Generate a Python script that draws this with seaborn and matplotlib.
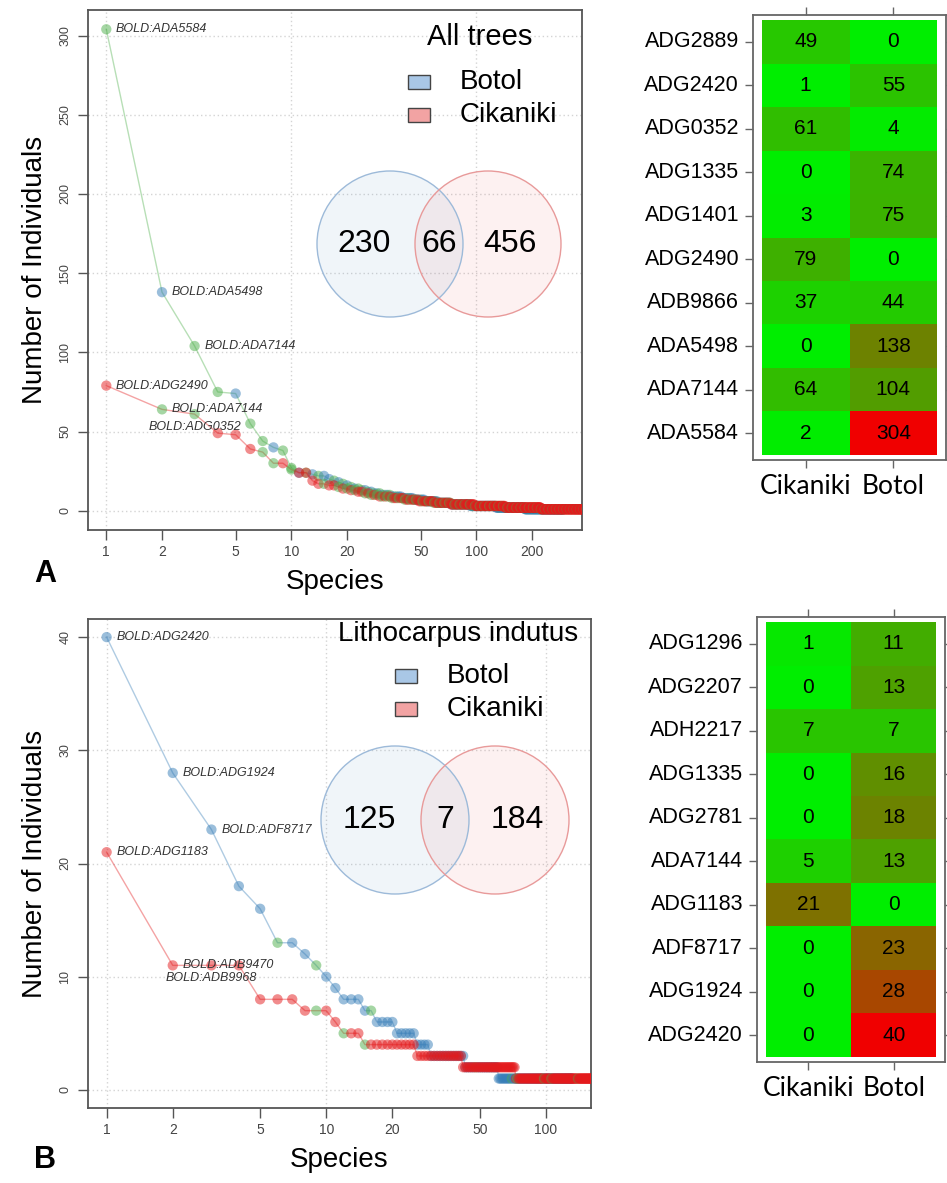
import numpy as np
import pandas as pd
import seaborn as sns
import matplotlib.pyplot as plt
from matplotlib.colors import LinearSegmentedColormap
from matplotlib.patches import Circle, Rectangle
from matplotlib.ticker import NullLocator

W, H = 947, 1183

# ---- panel A (all trees): rank abundance, first ranks one by one, then runs of equal abundance ----
a_botol_head = [304, 138, 104, 75, 74, 55, 44, 40, 38, 27, 24, 24, 23, 22, 22, 20, 19, 18, 17, 16,
                15, 14, 14, 13, 13, 12, 12, 11, 11, 11]
a_botol_tail_vals = [10, 9, 8, 7, 6, 5, 4, 3, 2, 1]
a_botol_tail_runs = [4, 5, 6, 7, 9, 11, 20, 35, 55, 114]
a_botol_shared = [1, 3, 4, 6, 7, 9, 10, 12, 14, 17, 19, 21, 23, 24, 26, 28, 30, 32, 34, 37, 40, 43,
                  46, 50, 53, 57, 60, 64, 68, 72, 77, 81, 86, 90, 95, 100, 105, 110, 116, 121, 127,
                  133, 139, 145, 151, 158, 165, 172, 179, 186, 193, 200, 208, 216, 224, 232, 240,
                  248, 256, 263, 270, 276, 282, 287, 291, 294]
a_cik_head = [79, 64, 61, 49, 48, 39, 37, 30, 30, 26, 24, 24, 19, 17, 17, 16, 16, 15, 14, 14,
              13, 13, 12, 12, 11, 11, 10, 10, 10, 9]
a_cik_tail_vals = [9, 8, 7, 6, 5, 4, 3, 2, 1]
a_cik_tail_runs = [4, 6, 8, 10, 14, 25, 45, 80, 300]
a_cik_shared = [2, 3, 7, 8, 10, 15, 18, 20, 22, 25, 27, 29, 31, 33, 35, 38, 41, 44, 47, 51, 55, 59,
                63, 67, 71, 76, 81, 86, 92, 98, 104, 110, 117, 124, 131, 139, 147, 155, 164, 173,
                182, 192, 202, 212, 223, 234, 245, 257, 269, 281, 294, 307, 320, 334, 348, 363,
                378, 393, 409, 425, 441, 457, 473, 489, 505, 518]
a_botol_labels = ["BOLD:ADA5584", "BOLD:ADA5498", "BOLD:ADA7144"]
a_cik_labels = ["BOLD:ADG2490", "BOLD:ADA7144", "BOLD:ADG0352"]
a_venn = [230, 66, 456]

# ---- panel B (Lithocarpus indutus) ----
b_botol_head = [40, 28, 23, 18, 16, 13, 13, 12, 11, 10, 9, 8, 8, 8]
b_botol_tail_vals = [7, 6, 5, 4, 3, 2, 1]
b_botol_tail_runs = [2, 4, 5, 4, 13, 18, 72]
b_botol_shared = [6, 9, 16, 48, 70, 95, 118]
b_cik_head = [21, 11, 11, 11, 8, 8, 8, 7, 7, 7, 6, 5, 5, 5]
b_cik_tail_vals = [4, 3, 2, 1]
b_cik_tail_runs = [11, 16, 31, 119]
b_cik_shared = [9, 12, 15, 74, 98, 106, 140]
b_botol_labels = ["BOLD:ADG2420", "BOLD:ADG1924", "BOLD:ADF8717"]
b_cik_labels = ["BOLD:ADG1183", "BOLD:ADB9470", "BOLD:ADB9968"]
b_venn = [125, 7, 184]

# ---- heatmaps ----
a_heat_rows = ["ADG2889", "ADG2420", "ADG0352", "ADG1335", "ADG1401",
               "ADG2490", "ADB9866", "ADA5498", "ADA7144", "ADA5584"]
a_heat_cik = [49, 1, 61, 0, 3, 79, 37, 0, 64, 2]
a_heat_botol = [0, 55, 4, 74, 75, 0, 44, 138, 104, 304]
b_heat_rows = ["ADG1296", "ADG2207", "ADH2217", "ADG1335", "ADG2781",
               "ADA7144", "ADG1183", "ADF8717", "ADG1924", "ADG2420"]
b_heat_cik = [1, 0, 7, 0, 0, 5, 21, 0, 0, 0]
b_heat_botol = [11, 13, 7, 16, 18, 13, 0, 23, 28, 40]

site_cols = {"Botol": "#377EB8", "Cikaniki": "#E41A1C", "Shared": "#4DAF4A"}
heat_cmap = LinearSegmentedColormap.from_list("green_red", ["#00EE00", "#F00000"])

plt.rcParams["font.family"] = ["Liberation Sans", "DejaVu Sans"]
fig = plt.figure(figsize=(W / 100, H / 100), dpi=100)


def px_axes(x0, y0, x1, y1, **kw):
    return fig.add_axes([x0 / W, 1 - y1 / H, (x1 - x0) / W, (y1 - y0) / H], **kw)


def expand(head, tail_vals, tail_runs, shared, site):
    counts = list(head)
    for v, n in zip(tail_vals, tail_runs):
        counts += [v] * n
    df = pd.DataFrame({"rank": np.arange(1, len(counts) + 1), "count": counts})
    df["group"] = [("Shared" if r in shared else site) for r in df["rank"]]
    return df


def rank_panel(ax, botol, cik, b_lab, c_lab, yticks, xticks):
    ax.set_xscale("log")
    z = 2
    for df in (botol, cik):
        sns.lineplot(data=df, x="rank", y="count", color=site_cols[df["group"].iloc[0]],
                     alpha=0.4, lw=1, estimator=None, sort=False, ax=ax, zorder=z)
        sns.scatterplot(data=df, x="rank", y="count", hue="group", palette=site_cols,
                        s=55, alpha=0.5, linewidth=0, legend=False, ax=ax, zorder=z + 1)
        z += 2
    for df, labels in ((botol, b_lab), (cik, c_lab)):
        for i, lab in enumerate(labels):
            r, c = df["rank"].iloc[i], df["count"].iloc[i]
            if df is cik and i == 2:
                off, ha = (0, -9), "center"
            else:
                off, ha = (7, 0), "left"
            ax.annotate(lab, (r, c), xytext=off, textcoords="offset points", ha=ha, va="center",
                        fontsize=9, style="italic", color="#333333", zorder=10)
    # R-like limits: 4% padding, x range from the Botol curve
    L = np.log10(len(botol))
    ax.set_xlim(10 ** (-0.04 * L), 10 ** (1.04 * L))
    ymax = max(botol["count"].max(), cik["count"].max())
    ax.set_ylim(-0.04 * ymax, 1.04 * ymax)
    ax.set_xticks(xticks)
    ax.set_xticklabels([str(t) for t in xticks])
    ax.xaxis.set_minor_locator(NullLocator())
    ax.set_yticks(yticks)
    ax.set_yticklabels([str(t) for t in yticks], rotation=90, va="center")
    for v in (1, 10, 100):
        ax.axvline(v, color="#d4d4d4", ls=(0, (1, 2)), lw=1, zorder=0)
    for v in yticks:
        ax.axhline(v, color="#d4d4d4", ls=(0, (1, 2)), lw=1, zorder=0)
    ax.tick_params(axis="x", length=7, width=1, color="#555555", labelcolor="#444444",
                   labelsize=10, pad=4)
    ax.tick_params(axis="y", length=7, width=1, color="#555555", labelcolor="#444444",
                   labelsize=9, pad=5)
    for s in ax.spines.values():
        s.set_color("#555555")
        s.set_linewidth(1.3)
    ax.set_xlabel("Species", fontsize=20, labelpad=7)
    ax.set_ylabel("Number of Individuals", fontsize=20, labelpad=8)


def heat_panel(ax, rows, cik_vals, botol_vals):
    df = pd.DataFrame({"Cikaniki": cik_vals, "Botol": botol_vals}, index=rows)
    sns.heatmap(df, ax=ax, cmap=heat_cmap, vmin=0, vmax=df.values.max(), annot=True, fmt="d",
                cbar=False, annot_kws={"color": "black", "fontsize": 15})
    ax.set_xlim(-0.1, 2.1)
    ax.set_ylim(10.12, -0.12)
    for s in ax.spines.values():
        s.set_visible(True)
        s.set_color("#666666")
        s.set_linewidth(1.3)
    ax.tick_params(axis="y", left=True, right=True, length=6, width=1, color="#666666",
                   labelsize=15.5, pad=4)
    ax.tick_params(axis="x", top=True, bottom=True, length=6, width=1, color="#666666", pad=4)
    plt.setp(ax.get_yticklabels(), rotation=0)
    plt.setp(ax.get_xticklabels(), rotation=0, fontsize=19, family=["Lato", "DejaVu Sans"])
    ax.set_xlabel("")
    ax.set_ylabel("")


a_botol = expand(a_botol_head, a_botol_tail_vals, a_botol_tail_runs, a_botol_shared, "Botol")
a_cik = expand(a_cik_head, a_cik_tail_vals, a_cik_tail_runs, a_cik_shared, "Cikaniki")
b_botol = expand(b_botol_head, b_botol_tail_vals, b_botol_tail_runs, b_botol_shared, "Botol")
b_cik = expand(b_cik_head, b_cik_tail_vals, b_cik_tail_runs, b_cik_shared, "Cikaniki")

ax_a = px_axes(88, 10, 582, 530)
rank_panel(ax_a, a_botol, a_cik, a_botol_labels, a_cik_labels,
           [0, 50, 100, 150, 200, 250, 300], [1, 2, 5, 10, 20, 50, 100, 200])
ax_b = px_axes(88, 619, 591, 1108)
rank_panel(ax_b, b_botol, b_cik, b_botol_labels, b_cik_labels,
           [0, 10, 20, 30, 40], [1, 2, 5, 10, 20, 50, 100])

heat_panel(px_axes(753, 15, 946, 460), a_heat_rows, a_heat_cik, a_heat_botol)
heat_panel(px_axes(757, 617, 945, 1062), b_heat_rows, b_heat_cik, b_heat_botol)

# overlay in pixel units for the venn insets, legends and panel letters
ov = fig.add_axes([0, 0, 1, 1], zorder=5)
ov.set_xlim(0, W)
ov.set_ylim(H, 0)
ov.axis("off")


def venn(cx, cy, r, gap, counts):
    ov.add_patch(Circle((cx - gap / 2, cy), r, facecolor=site_cols["Botol"], alpha=0.07, lw=0))
    ov.add_patch(Circle((cx + gap / 2, cy), r, facecolor=site_cols["Cikaniki"], alpha=0.06, lw=0))
    ov.add_patch(Circle((cx - gap / 2, cy), r, fill=False, edgecolor="#9DBAD9", lw=1))
    ov.add_patch(Circle((cx + gap / 2, cy), r, fill=False, edgecolor="#E89A9A", lw=1))
    for dx, n in zip((-gap * 0.76, 0, gap * 0.72), counts):
        ov.text(cx + dx, cy, str(n), fontsize=23, ha="center", va="center")


def legend(title, tx, ty, sx, sy, tsize):
    ov.text(tx, ty, title, fontsize=tsize, ha="center", va="center")
    for i, (name, fc) in enumerate((("Botol", "#A9C7E6"), ("Cikaniki", "#F2A3A3"))):
        y = sy + i * 33
        ov.add_patch(Rectangle((sx, y - 7), 22, 14, facecolor=fc, edgecolor="#444444", lw=1))
        ov.text(sx + 52, y, name, fontsize=20, ha="left", va="center")


venn(439, 244, 73, 98, a_venn)
venn(445, 820, 74, 100, b_venn)
legend("All trees", 480, 37, 408, 82, 21)
legend("Lithocarpus indutus", 458, 634, 395, 676, 20)

ov.text(45, 574, "A", fontsize=22, fontweight="bold", ha="center", va="center")
ov.text(45, 1160, "B", fontsize=22, fontweight="bold", ha="center", va="center")

fig.savefig("out.png", dpi=100)
